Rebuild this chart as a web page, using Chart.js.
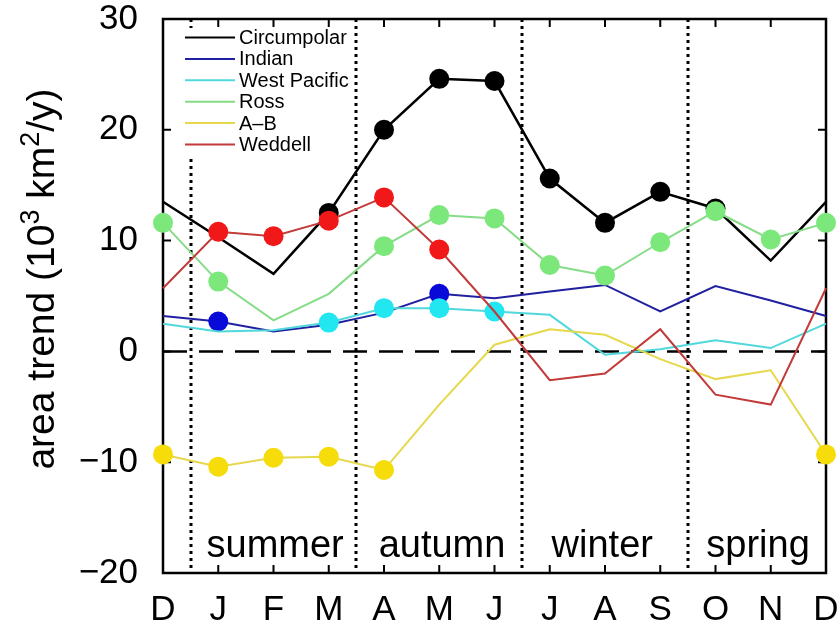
<!DOCTYPE html>
<html>
<head>
<meta charset="utf-8">
<script src="https://cdn.jsdelivr.net/npm/chart.js@4.4.1/dist/chart.umd.min.js"></script>
<style>
  html, body { margin: 0; padding: 0; background: #fff; }
</style>
</head>
<body>
<canvas id="grafica" width="839" height="621"></canvas>
<script>
// Meses del ciclo anual (diciembre se repite al final para cerrar el ciclo).
const meses = ['D', 'J', 'F', 'M', 'A', 'M', 'J', 'J', 'A', 'S', 'O', 'N', 'D'];
// Estaciones que se rotulan dentro de la gráfica.
const estaciones = ['summer', 'autumn', 'winter', 'spring'];
// Marcas del eje vertical.
const marcasY = [-20, -10, 0, 10, 20, 30];

// Tendencia de área por región (10^3 km2/año).
const circumpolar = [13.5, 10.3, 7.0, 12.5, 20.0, 24.6, 24.4, 15.6, 11.6, 14.4, 12.9, 8.2, 13.5];
const indian = [3.2, 2.7, 1.8, 2.4, 3.5, 5.2, 4.8, 5.4, 6.0, 3.6, 5.9, 4.6, 3.2];
const westPacific = [2.5, 1.8, 1.9, 2.6, 3.9, 3.9, 3.6, 3.3, -0.3, 0.2, 1.0, 0.3, 2.5];
const ross = [11.6, 6.3, 2.8, 5.2, 9.5, 12.3, 12.0, 7.8, 6.85, 9.85, 12.65, 10.1, 11.6];
const ab = [-9.3, -10.4, -9.6, -9.5, -10.7, -4.8, 0.6, 2.0, 1.5, -0.7, -2.5, -1.7, -9.3];
const weddell = [5.7, 10.8, 10.4, 11.8, 13.9, 9.2, 3.6, -2.6, -2.0, 2.0, -3.9, -4.8, 5.7];

// Meses con tendencia significativa (1 = se dibuja el círculo).
const sigCircumpolar = [0, 0, 0, 1, 1, 1, 1, 1, 1, 1, 1, 0, 0];
const sigIndian = [0, 1, 0, 0, 0, 1, 0, 0, 0, 0, 0, 0, 0];
const sigWestPacific = [0, 0, 0, 1, 1, 1, 1, 0, 0, 0, 0, 0, 0];
const sigRoss = [1, 1, 0, 0, 1, 1, 1, 1, 1, 1, 1, 1, 1];
const sigAB = [1, 1, 1, 1, 1, 0, 0, 0, 0, 0, 0, 0, 1];
const sigWeddell = [0, 1, 1, 1, 1, 1, 0, 0, 0, 0, 0, 0, 0];

const FUENTE = '"Liberation Sans", Arial, Helvetica, sans-serif';

// Radio del marcador para cada mes según si es significativo o no.
function radios(sig) {
    return sig.map(function (s) { return s ? 10 : 0; });
}

// Arma un dataset de línea con sus colores.
function serie(nombre, valores, sig, colorLinea, colorPunto, grosor, orden) {
    return {
        label: nombre,
        data: valores,
        borderColor: colorLinea,
        backgroundColor: colorPunto,
        borderWidth: grosor,
        pointRadius: radios(sig),
        pointHoverRadius: radios(sig),
        pointBackgroundColor: colorPunto,
        pointBorderColor: colorPunto,
        pointBorderWidth: 0,
        tension: 0,
        fill: false,
        clip: false,
        order: orden
    };
}

// Quita el margen automático que Chart.js reserva para las etiquetas extremas.
function sinMargen(s) {
    s.paddingTop = 0;
    s.paddingBottom = 0;
    s.paddingLeft = 0;
    s.paddingRight = 0;
}

// Plugin con el marco, las divisiones de estaciones, la leyenda y los rótulos.
const decoracion = {
    id: 'decoracion',
    beforeDatasetsDraw: function (chart) {
        const ctx = chart.ctx;
        const a = chart.chartArea;
        const x = chart.scales.x;
        const y = chart.scales.y;
        ctx.save();

        // Línea punteada de cero.
        ctx.strokeStyle = '#000';
        ctx.lineWidth = 2.5;
        ctx.setLineDash([24, 12]);
        ctx.beginPath();
        ctx.moveTo(a.left, y.getPixelForValue(0));
        ctx.lineTo(a.right, y.getPixelForValue(0));
        ctx.stroke();

        // Divisiones entre estaciones.
        ctx.lineWidth = 3;
        ctx.setLineDash([3, 4]);
        [0.5, 3.5, 6.5, 9.5].forEach(function (v) {
            const px = Math.round(x.getPixelForValue(v));
            ctx.beginPath();
            ctx.moveTo(px, a.top);
            ctx.lineTo(px, a.bottom);
            ctx.stroke();
        });
        ctx.setLineDash([]);

        // Marco y marcas hacia adentro.
        ctx.lineWidth = 2.5;
        ctx.strokeRect(a.left, a.top, a.right - a.left, a.bottom - a.top);
        ctx.lineWidth = 2;
        ctx.beginPath();
        marcasY.forEach(function (v) {
            const py = y.getPixelForValue(v);
            ctx.moveTo(a.left, py); ctx.lineTo(a.left + 8, py);
            ctx.moveTo(a.right, py); ctx.lineTo(a.right - 8, py);
        });
        meses.forEach(function (m, i) {
            const px = x.getPixelForValue(i);
            ctx.moveTo(px, a.bottom); ctx.lineTo(px, a.bottom - 8);
            ctx.moveTo(px, a.top); ctx.lineTo(px, a.top + 8);
        });
        ctx.stroke();
        ctx.restore();
    },
    afterDatasetsDraw: function (chart) {
        const ctx = chart.ctx;
        const x = chart.scales.x;
        ctx.save();

        // Leyenda con fondo blanco.
        ctx.fillStyle = '#fff';
        ctx.fillRect(172, 28, 180, 129);
        ctx.font = '20px ' + FUENTE;
        ctx.textBaseline = 'middle';
        ctx.textAlign = 'left';
        chart.data.datasets.forEach(function (ds, i) {
            const py = 37.5 + i * 21.4;
            ctx.strokeStyle = ds.borderColor;
            ctx.lineWidth = 2;
            ctx.beginPath();
            ctx.moveTo(185, py);
            ctx.lineTo(235, py);
            ctx.stroke();
            ctx.fillStyle = '#000';
            ctx.fillText(ds.label, 239, py + 1);
        });

        // Nombres de las estaciones.
        ctx.font = '38px ' + FUENTE;
        ctx.textAlign = 'center';
        ctx.textBaseline = 'alphabetic';
        const posiciones = [2.03, 5.05, 7.95, 10.77];
        estaciones.forEach(function (e, i) {
            ctx.fillText(e, x.getPixelForValue(posiciones[i]), 557);
        });

        // Título del eje vertical con superíndices.
        const partes = [['area trend (10', false], ['3', true], [' km', false], ['2', true], ['/y)', false]];
        const normal = '39px ' + FUENTE;
        const chico = '27px ' + FUENTE;
        let total = 0;
        partes.forEach(function (p) {
            ctx.font = p[1] ? chico : normal;
            total += ctx.measureText(p[0]).width;
        });
        ctx.translate(54, 279);
        ctx.rotate(-Math.PI / 2);
        ctx.textAlign = 'left';
        let cx = -total / 2;
        partes.forEach(function (p) {
            ctx.font = p[1] ? chico : normal;
            ctx.fillText(p[0], cx, p[1] ? -15 : 0);
            cx += ctx.measureText(p[0]).width;
        });
        ctx.restore();
    }
};

const ctx = document.getElementById('grafica').getContext('2d');
const grafica = new Chart(ctx, {
    type: 'line',
    data: {
        labels: meses,
        datasets: [
            serie('Circumpolar', circumpolar, sigCircumpolar, '#000000', '#000000', 2.5, 6),
            serie('Indian', indian, sigIndian, '#2020a0', '#0a0ad8', 2, 5),
            serie('West Pacific', westPacific, sigWestPacific, '#50d8dc', '#22e6f0', 2, 4),
            serie('Ross', ross, sigRoss, '#86dc86', '#7ce87c', 2, 3),
            serie('A\u2013B', ab, sigAB, '#e6d84c', '#f6dc0a', 2, 2),
            serie('Weddell', weddell, sigWeddell, '#c23a3a', '#f01818', 2, 1)
        ]
    },
    options: {
        responsive: false,
        animation: false,
        devicePixelRatio: 1,
        layout: { padding: { left: 0, right: 13, top: 19, bottom: 0 } },
        plugins: {
            legend: { display: false },
            tooltip: { enabled: false }
        },
        scales: {
            x: {
                type: 'category',
                offset: false,
                grid: { display: false },
                border: { display: false },
                ticks: {
                    color: '#000',
                    font: { family: FUENTE, size: 35, lineHeight: 1 },
                    padding: 12,
                    maxRotation: 0,
                    autoSkip: false
                },
                afterFit: function (s) { s.height = 48; sinMargen(s); }
            },
            y: {
                min: -20,
                max: 30,
                grid: { display: false },
                border: { display: false },
                ticks: {
                    stepSize: 10,
                    color: '#000',
                    font: { family: FUENTE, size: 35, lineHeight: 1 },
                    padding: 17,
                    callback: function (v) { return String(v).replace('-', '\u2212'); }
                },
                afterFit: function (s) { s.width = 163; sinMargen(s); }
            }
        }
    },
    plugins: [decoracion]
});
</script>
</body>
</html>
